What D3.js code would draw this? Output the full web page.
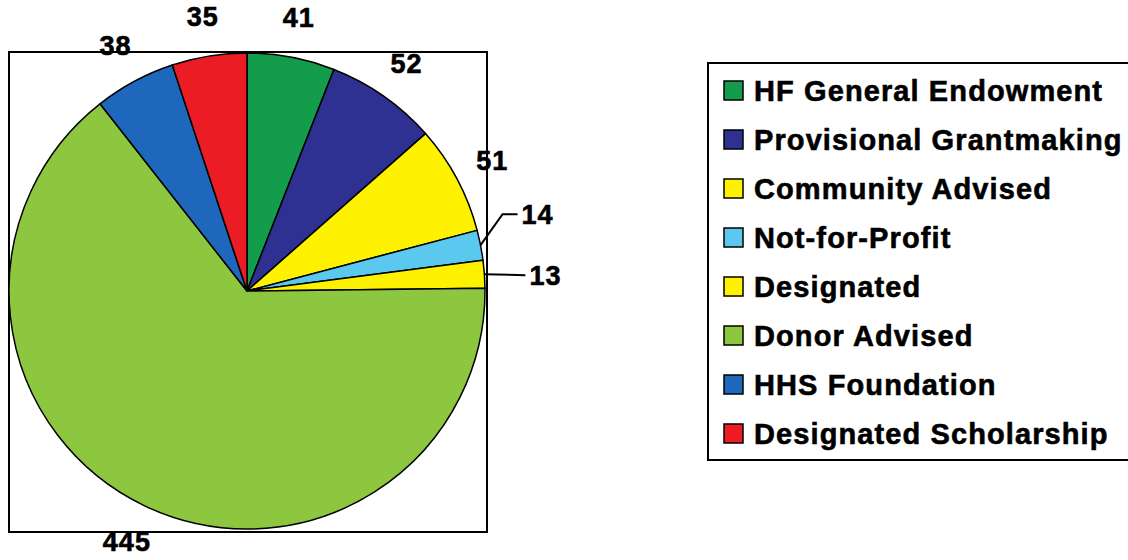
<!DOCTYPE html>
<html><head><meta charset="utf-8">
<script src="https://cdn.jsdelivr.net/npm/d3@7"></script>
<style>body{margin:0;background:#fff}svg{display:block}text{font-family:"Liberation Sans",Arial,sans-serif;font-weight:bold;fill:#000;stroke:#000;stroke-width:0.6px}</style>
</head><body><svg id="c" width="1128" height="560"></svg>
<script>
const categories = ["HF General Endowment","Provisional Grantmaking","Community Advised","Not-for-Profit","Designated","Donor Advised","HHS Foundation","Designated Scholarship"];
const values = [41,52,51,14,13,445,38,35];
const colors = ["#129c4b","#2e3192","#fff200","#5bc8ef","#fff200","#8dc63f","#1f67bd","#ec1c24"];
// label layout: small slices get a leader line (elbow offsets in px)
const leaderSlices = {"Not-for-Profit":{ex:22,ey:-31,hx:15}, "Designated":{ex:41,ey:1,hx:0}};

const svg = d3.select("#c");
const cx = 247, cy = 291, R = 238;
const data = categories.map((c,i)=>({cat:c, value:values[i], color:colors[i]}));

// plot area frame
svg.append("rect").attr("x",9).attr("y",52).attr("width",478).attr("height",480)
  .attr("fill","none").attr("stroke","#000").attr("stroke-width",2);

const pie = d3.pie().value(d=>d.value).sort(null).startAngle(0).endAngle(2*Math.PI);
const arcs = pie(data);
const arc = d3.arc().innerRadius(0).outerRadius(R);
const g = svg.append("g").attr("transform",`translate(${cx},${cy})`);
g.selectAll("path").data(arcs).join("path")
  .attr("d",arc).attr("fill",d=>d.data.color).attr("stroke","#000").attr("stroke-width",1.5).attr("stroke-linejoin","round");

const labelR = 278;
arcs.forEach(a=>{
  const m = (a.startAngle+a.endAngle)/2;
  const L = leaderSlices[a.data.cat];
  if(L){
    const x0 = Math.sin(m)*R, y0 = -Math.cos(m)*R;
    const x1 = x0+L.ex, y1 = y0+L.ey, x2 = x1+L.hx;
    g.append("path").attr("d",`M${x0},${y0}L${x1},${y1}L${x2},${y1}`)
      .attr("fill","none").attr("stroke","#000").attr("stroke-width",2);
    g.append("text").attr("x",x2+4).attr("y",y1).attr("dy","0.35em")
      .attr("font-size",27).attr("letter-spacing",1).text(a.data.value);
  } else {
    const x = Math.sin(m)*labelR, y = -Math.cos(m)*labelR;
    g.append("text").attr("x",x).attr("y",y).attr("dy","0.35em").attr("text-anchor","middle")
      .attr("font-size",27).attr("letter-spacing",1).text(a.data.value);
  }
});

// legend
svg.append("rect").attr("x",708).attr("y",63).attr("width",440).attr("height",397)
  .attr("fill","none").attr("stroke","#000").attr("stroke-width",2);
const lg = svg.append("g");
data.forEach((d,i)=>{
  const base = 101 + i*49;
  lg.append("rect").attr("x",724).attr("y",base-20).attr("width",19).attr("height",19)
    .attr("fill",d.color).attr("stroke","#000").attr("stroke-width",1.5);
  lg.append("text").attr("x",754).attr("y",base).attr("font-size",29).attr("letter-spacing",1.1).text(d.cat);
});
</script></body></html>
